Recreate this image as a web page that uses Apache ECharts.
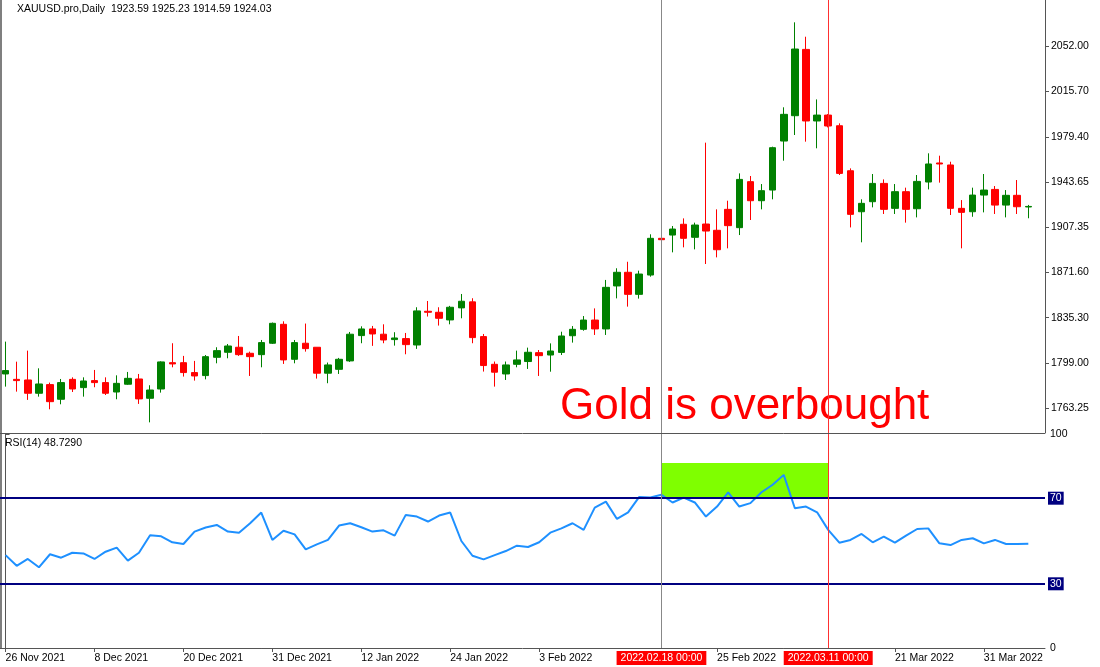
<!DOCTYPE html>
<html><head><meta charset="utf-8">
<script src="https://cdn.jsdelivr.net/npm/echarts@6/dist/echarts.min.js"></script>
<style>html,body{margin:0;padding:0;background:#fff}#c{width:1100px;height:667px}</style>
</head><body><div id="c"></div>
<script>
const dates = ['26 Nov 2021','29 Nov 2021','30 Nov 2021','1 Dec 2021','2 Dec 2021','3 Dec 2021','6 Dec 2021','7 Dec 2021','8 Dec 2021','9 Dec 2021','10 Dec 2021','13 Dec 2021','14 Dec 2021','15 Dec 2021','16 Dec 2021','17 Dec 2021','20 Dec 2021','21 Dec 2021','22 Dec 2021','23 Dec 2021','27 Dec 2021','28 Dec 2021','29 Dec 2021','30 Dec 2021','31 Dec 2021','3 Jan 2022','4 Jan 2022','5 Jan 2022','6 Jan 2022','7 Jan 2022','10 Jan 2022','11 Jan 2022','12 Jan 2022','13 Jan 2022','14 Jan 2022','17 Jan 2022','18 Jan 2022','19 Jan 2022','20 Jan 2022','21 Jan 2022','24 Jan 2022','25 Jan 2022','26 Jan 2022','27 Jan 2022','28 Jan 2022','31 Jan 2022','1 Feb 2022','2 Feb 2022','3 Feb 2022','4 Feb 2022','7 Feb 2022','8 Feb 2022','9 Feb 2022','10 Feb 2022','11 Feb 2022','14 Feb 2022','15 Feb 2022','16 Feb 2022','17 Feb 2022','18 Feb 2022','21 Feb 2022','22 Feb 2022','23 Feb 2022','24 Feb 2022','25 Feb 2022','28 Feb 2022','1 Mar 2022','2 Mar 2022','3 Mar 2022','4 Mar 2022','7 Mar 2022','8 Mar 2022','9 Mar 2022','10 Mar 2022','11 Mar 2022','14 Mar 2022','15 Mar 2022','16 Mar 2022','17 Mar 2022','18 Mar 2022','21 Mar 2022','22 Mar 2022','23 Mar 2022','24 Mar 2022','25 Mar 2022','28 Mar 2022','29 Mar 2022','30 Mar 2022','31 Mar 2022','1 Apr 2022','4 Apr 2022','5 Apr 2022','6 Apr 2022',''];
const open = [1790.4,1786.1,1785.6,1775.0,1781.9,1770.2,1786.1,1779.5,1785.1,1783.5,1776.0,1782.2,1786.4,1771.0,1778.4,1799.4,1799.4,1791.5,1789.1,1803.7,1807.7,1811.7,1806.9,1805.8,1814.9,1830.0,1802.1,1814.9,1811.7,1791.0,1794.1,1800.8,1821.0,1826.3,1822.1,1817.8,1818.6,1813.5,1840.4,1839.6,1833.5,1843.1,1847.9,1820.2,1798.1,1790.4,1798.1,1800.3,1807.4,1805.5,1807.6,1820.9,1826.0,1833.4,1826.3,1860.6,1871.5,1853.9,1869.3,1898.6,1901.2,1909.8,1899.4,1910.0,1905.0,1921.7,1907.1,1943.8,1928.6,1937.1,1976.2,1996.4,2049.3,1992.2,1996.9,1988.4,1952.5,1919.8,1927.8,1942.4,1922.5,1935.8,1922.2,1943.5,1958.7,1957.1,1922.5,1919.8,1933.1,1937.6,1925.1,1932.9,1923.59];
const close = [1793.1,1785.1,1775.0,1782.4,1768.3,1783.5,1778.4,1784.8,1783.5,1775.0,1782.9,1786.9,1770.5,1777.6,1800.0,1798.4,1791.5,1788.8,1804.2,1809.0,1812.7,1805.8,1804.2,1815.4,1830.8,1801.6,1815.4,1810.6,1791.0,1797.6,1802.1,1822.1,1826.3,1822.3,1817.5,1819.1,1813.8,1840.7,1839.6,1834.8,1843.6,1848.4,1819.4,1797.1,1791.8,1797.6,1801.6,1807.7,1805.0,1808.7,1820.7,1826.0,1833.4,1826.3,1859.5,1871.5,1853.9,1870.1,1898.6,1897.5,1906.0,1898.6,1909.2,1904.4,1889.5,1908.7,1945.6,1928.6,1936.6,1970.9,1997.5,2049.6,1992.2,1996.9,1988.2,1950.4,1917.7,1926.5,1942.4,1921.7,1935.8,1921.7,1944.0,1957.9,1957.9,1922.5,1919.3,1933.1,1937.1,1925.1,1932.9,1923.8,1924.03];
const low = [1780.3,1776.3,1769.7,1772.3,1762.2,1766.2,1776.0,1772.3,1779.8,1773.6,1770.2,1781.7,1766.5,1751.8,1775.5,1795.7,1788.3,1785.1,1786.1,1798.9,1802.9,1804.8,1788.8,1795.7,1814.3,1798.4,1798.9,1808.2,1786.7,1783.0,1790.4,1800.0,1814.9,1812.8,1814.9,1813.0,1806.1,1810.4,1836.2,1829.0,1830.0,1834.8,1814.9,1792.3,1780.3,1785.6,1795.7,1794.4,1788.8,1792.2,1805.5,1815.4,1824.9,1821.5,1821.5,1850.7,1844.1,1850.5,1868.0,1897.0,1887.4,1891.4,1889.8,1878.1,1883.4,1890.6,1901.2,1913.2,1921.7,1929.7,1960.5,1981.0,1975.7,1970.4,1987.1,1949.1,1907.3,1895.4,1923.3,1918.0,1918.0,1911.1,1915.3,1937.6,1943.0,1917.2,1890.6,1915.8,1919.3,1918.0,1915.3,1918.0,1914.59];
const high = [1816.2,1800.2,1809.0,1794.9,1783.5,1786.4,1787.7,1787.7,1793.6,1787.7,1789.3,1792.0,1790.4,1781.4,1800.5,1814.9,1804.8,1800.8,1805.5,1811.7,1814.3,1820.7,1808.2,1817.5,1831.4,1832.4,1817.5,1830.6,1811.7,1799.5,1803.2,1823.9,1828.4,1828.7,1830.0,1823.7,1823.1,1843.6,1848.6,1843.6,1844.7,1854.2,1850.8,1822.3,1800.3,1800.3,1809.0,1811.4,1809.5,1814.8,1824.1,1828.6,1836.6,1842.7,1865.4,1874.7,1879.9,1872.8,1901.8,1899.1,1908.4,1914.5,1911.1,1974.9,1921.7,1928.6,1950.4,1948.3,1941.9,1971.7,2003.1,2070.9,2059.4,2009.4,1997.7,1990.3,1954.4,1929.7,1949.9,1945.6,1941.9,1939.0,1949.1,1966.4,1964.5,1959.7,1929.1,1939.0,1949.9,1940.3,1937.1,1945.1,1925.23];
const rsi = [43.4,38.4,41.6,37.7,43.8,42.2,44.5,44.2,41.6,45.0,46.9,40.8,44.5,52.7,52.2,49.4,48.6,54.4,56.3,57.5,54.4,53.9,58.3,63.3,50.5,54.8,53.1,46.1,48.4,50.5,57.2,58.3,56.4,54.4,55.0,52.5,62.2,61.4,59.1,61.9,63.3,50.0,43.1,41.4,43.4,45.3,47.8,47.2,49.4,53.9,55.9,58.3,55.2,65.6,68.4,60.3,63.4,70.6,70.3,71.6,68.0,70.3,68.0,61.4,66.1,72.7,66.1,67.7,72.8,76.3,80.9,65.3,66.1,63.4,55.2,49.2,50.5,53.3,49.4,52.0,49.2,52.5,55.6,55.9,48.9,48.1,50.5,51.3,48.9,50.5,48.6,48.6,48.73];
const priceTicks = [1763.25,1799.00,1835.30,1871.60,1907.35,1943.65,1979.40,2015.70,2052.00];
const rsiTicks = [0,30,70,100];
const lastPrice = 1924.03;

const candles = open.map((o,i)=>[o,close[i],low[i],high[i]]);
const rsiData = rsi.map((v,j)=>[j,v]);
const showLbl = i => i%8===0 && i!==56 && i!==72 && i<93;
const F = 'Liberation Sans';
const chart = echarts.init(document.getElementById('c'));
chart.setOption({
  animation:false,
  grid:[{left:-3,right:55,top:0,height:433},{left:-3,right:55,top:434,height:214}],
  xAxis:[
    {type:'category',data:dates,gridIndex:0,position:'bottom',offset:215,boundaryGap:true,
     axisLine:{show:true,lineStyle:{color:'#555'}},
     axisTick:{show:true,interval:(i)=>showLbl(i),alignWithLabel:true,length:4,lineStyle:{color:'#555'}},
     axisLabel:{interval:(i)=>showLbl(i),align:'left',margin:5,fontFamily:F,fontSize:10.5,color:'#000'},
     splitLine:{show:false}},
    {type:'value',gridIndex:1,min:-0.5,max:93.5,show:false,splitLine:{show:false}}
  ],
  yAxis:[
    {type:'value',gridIndex:0,position:'right',min:1743.3,max:2088.7,
     axisLine:{show:true,lineStyle:{color:'#555'}},
     axisTick:{show:true,customValues:priceTicks,length:4,lineStyle:{color:'#555'}},
     axisLabel:{customValues:priceTicks,formatter:v=>v.toFixed(2),fontFamily:F,fontSize:10.5,color:'#000',margin:6},
     splitLine:{show:false}},
    {type:'value',gridIndex:1,position:'right',min:0,max:100,
     axisLine:{show:true,lineStyle:{color:'#555'}},
     axisTick:{show:true,customValues:rsiTicks,length:4,lineStyle:{color:'#555'}},
     axisLabel:{customValues:rsiTicks,color:'#000',margin:3,
       formatter:v=>(v===30||v===70)?'{b|'+v+'}':'{n|'+v+'}',
       rich:{b:{backgroundColor:'#000080',color:'#fff',padding:[1,2],fontFamily:F,fontSize:10.5},n:{padding:[1,2],fontFamily:F,fontSize:10.5,color:'#000'}}},
     splitLine:{show:false}}
  ],
  series:[
    {type:'candlestick',xAxisIndex:0,yAxisIndex:0,data:candles,barWidth:7,
     itemStyle:{color:'#008000',color0:'#ff0000',borderColor:'#008000',borderColor0:'#ff0000',borderWidth:1},
     markLine:{symbol:'none',silent:true,animation:false,
       data:[
         {xAxis:59,lineStyle:{color:'#888',width:1,type:'solid'},label:{show:false}},
         {xAxis:74,lineStyle:{color:'#ff3030',width:1,type:'solid'},label:{show:false}},
         {yAxis:lastPrice,lineStyle:{opacity:0},label:{show:true,position:'end',distance:4,formatter:lastPrice.toFixed(2),
           backgroundColor:'#000',color:'#fff',padding:[2,3,1,3],fontFamily:F,fontSize:10.5}}
       ]}},
    {type:'line',xAxisIndex:1,yAxisIndex:1,data:rsiData,showSymbol:false,symbol:'none',
     lineStyle:{color:'#1e90ff',width:2},itemStyle:{color:'#1e90ff'},z:3,
     markArea:{silent:true,itemStyle:{color:'#7fff00',opacity:1},data:[[{xAxis:59,yAxis:70},{xAxis:74,yAxis:86.5}]]},
     markLine:{symbol:'none',silent:true,animation:false,
       data:[
         {yAxis:70,lineStyle:{color:'#000080',width:2,type:'solid'},label:{show:false}},
         {yAxis:30,lineStyle:{color:'#000080',width:2,type:'solid'},label:{show:false}},
         {xAxis:59,lineStyle:{color:'#888',width:1,type:'solid'},label:{show:true,position:'start',distance:3,formatter:'2022.02.18 00:00',backgroundColor:'#ff0000',color:'#fff',padding:[2,4,1,4],fontFamily:F,fontSize:10.5}},
         {xAxis:74,lineStyle:{color:'#ff3030',width:1,type:'solid'},label:{show:true,position:'start',distance:3,formatter:'2022.03.11 00:00',backgroundColor:'#ff0000',color:'#fff',padding:[2,4,1,4],fontFamily:F,fontSize:10.5}}
       ]}}
  ],
  graphic:[
    {type:'line',shape:{x1:0,y1:433.5,x2:1045,y2:433.5},style:{stroke:'#555',lineWidth:1}},
    {type:'line',shape:{x1:1,y1:0,x2:1,y2:648},style:{stroke:'#555',lineWidth:1.5}},
    {type:'text',left:17,top:4,style:{text:'XAUUSD.pro,Daily  1923.59 1925.23 1914.59 1924.03',font:'10.5px "Liberation Sans"',fill:'#000'}},
    {type:'text',left:5,top:438,style:{text:'RSI(14) 48.7290',font:'10.5px "Liberation Sans"',fill:'#000'}},
    {type:'text',left:560,top:385,style:{text:'Gold is overbought',font:'44px "Liberation Sans"',fill:'#ff0000'}}
  ]
});
</script></body></html>
